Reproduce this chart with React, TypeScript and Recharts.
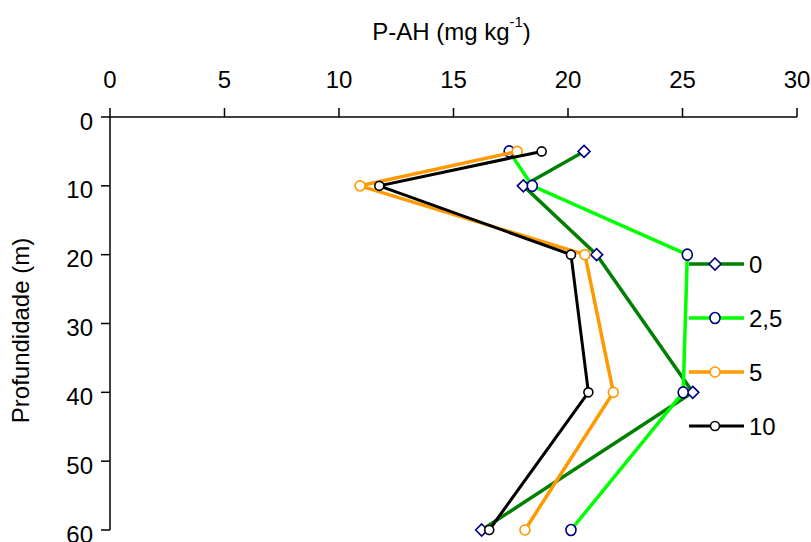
import React from 'react';
import { ScatterChart, Scatter, XAxis, YAxis } from 'recharts';

// Depth of each sampling layer (m)
const depths = [5, 10, 20, 40, 60];

// P-AH (mg kg-1) per depth for each treatment
const pah0 = [20.7, 18.05, 21.25, 25.45, 16.23];
const pah25 = [17.43, 18.44, 25.21, 25.03, 20.13];
const pah5 = [17.78, 10.92, 20.74, 21.98, 18.12];
const pah10 = [18.85, 11.76, 20.13, 20.89, 16.56];

const seriesNames = ['0', '2,5', '5', '10'];
const xTicks = [0, 5, 10, 15, 20, 25, 30];
const yTicks = [0, 10, 20, 30, 40, 50, 60];

const FONT = '"Liberation Sans", Arial, sans-serif';
const FS = 24;
const NAVY = '#000080';

const toRows = (vals: number[]) => depths.map((d, i) => ({ pah: vals[i], depth: d }));

const Diamond = ({ cx, cy }: any) => (
  <path
    d={`M${cx},${cy - 6} L${cx + 6},${cy} L${cx},${cy + 6} L${cx - 6},${cy} Z`}
    fill="#fff"
    stroke={NAVY}
    strokeWidth={1.6}
  />
);

const NavyOval = ({ cx, cy }: any) => (
  <ellipse cx={cx} cy={cy} rx={5} ry={5.5} fill="#fff" stroke={NAVY} strokeWidth={1.6} />
);

const OrangeDot = ({ cx, cy }: any) => (
  <circle cx={cx} cy={cy} r={5} fill="#fff" stroke="#FF9900" strokeWidth={1.6} />
);

const BlackDot = ({ cx, cy }: any) => (
  <circle cx={cx} cy={cy} r={4.5} fill="#fff" stroke="#000" strokeWidth={1.6} />
);

const series = [
  { name: seriesNames[0], rows: toRows(pah0), color: '#008000', width: 3.5, Marker: Diamond },
  { name: seriesNames[1], rows: toRows(pah25), color: '#00FF00', width: 3.5, Marker: NavyOval },
  { name: seriesNames[2], rows: toRows(pah5), color: '#FF9900', width: 3.5, Marker: OrangeDot },
  { name: seriesNames[3], rows: toRows(pah10), color: '#000000', width: 3, Marker: BlackDot },
];

const TopTitle = ({ viewBox }: any) => {
  const cx = viewBox.x + viewBox.width / 2 - 2;
  return (
    <text x={cx} y={viewBox.y + 30} textAnchor="middle" fontFamily={FONT} fontSize={FS} fill="#000">
      P-AH (mg kg
      <tspan dy={-13} fontSize={15}>-1</tspan>
      <tspan dy={13}>)</tspan>
    </text>
  );
};

const SideTitle = ({ viewBox }: any) => {
  const cx = 28.5;
  const cy = viewBox.y + viewBox.height / 2 + 7;
  return (
    <text
      x={cx}
      y={cy}
      transform={`rotate(-90, ${cx}, ${cy})`}
      textAnchor="middle"
      fontFamily={FONT}
      fontSize={FS}
      fill="#000"
    >
      Profundidade (m)
    </text>
  );
};

const DepthTick = ({ x, y, payload }: any) => (
  <text x={x} y={y + 4} dy="0.355em" textAnchor="end" fontFamily={FONT} fontSize={FS} fill="#000">
    {payload.value}
  </text>
);

const LegendBlock = () => (
  <g>
    {series.map((s, i) => {
      const y = 264 + i * 54;
      const M = s.Marker;
      return (
        <g key={s.name}>
          <line x1={689} x2={744} y1={y} y2={y} stroke={s.color} strokeWidth={s.width} />
          <M cx={715} cy={y} />
          <text x={749} y={y + 8.6} fontFamily={FONT} fontSize={FS} fill="#000">
            {s.name}
          </text>
        </g>
      );
    })}
  </g>
);

export default function App() {
  return (
    <div style={{ position: 'absolute', left: 0, top: 0 }}>
      <ScatterChart width={811} height={542} margin={{ top: 10, right: 14, bottom: 12, left: 0 }}>
        <XAxis
          type="number"
          dataKey="pah"
          orientation="top"
          domain={[0, 30]}
          ticks={xTicks}
          height={107}
          tickSize={9}
          tickMargin={20}
          axisLine={{ stroke: '#000', strokeWidth: 1.5 }}
          tickLine={{ stroke: '#000', strokeWidth: 1.5 }}
          tick={{ fill: '#000', fontSize: FS, fontFamily: FONT }}
          label={<TopTitle />}
        />
        <YAxis
          type="number"
          dataKey="depth"
          reversed
          domain={[0, 60]}
          ticks={yTicks}
          width={110}
          tickSize={9}
          tickMargin={8}
          axisLine={{ stroke: '#000', strokeWidth: 1.5 }}
          tickLine={{ stroke: '#000', strokeWidth: 1.5 }}
          tick={<DepthTick />}
          label={<SideTitle />}
        />
        {series.map((s) => (
          <Scatter
            key={s.name}
            name={s.name}
            data={s.rows}
            line={{ stroke: s.color, strokeWidth: s.width }}
            lineJointType="linear"
            shape={(p: any) => <s.Marker cx={p.cx} cy={p.cy} />}
            isAnimationActive={false}
          />
        ))}
        <LegendBlock />
      </ScatterChart>
    </div>
  );
}
